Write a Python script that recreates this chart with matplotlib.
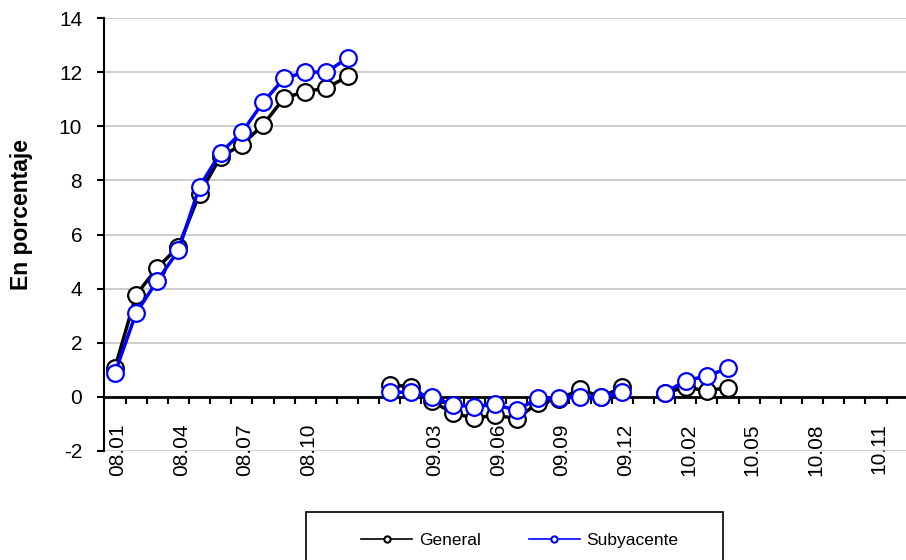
import numpy as np
import matplotlib
matplotlib.use("Agg")
import matplotlib.pyplot as plt
import matplotlib.transforms as mtransforms
from matplotlib.lines import Line2D
from matplotlib.patches import Rectangle

plt.rcParams["font.family"] = ["Liberation Sans", "DejaVu Sans"]
plt.rcParams["axes.unicode_minus"] = False

# ---------- data ----------
# categories: 2008 months, blank, 2009 months, blank, 2010 months
months_08 = [f"08.{m:02d}" for m in range(1, 13)]
months_09 = [f"09.{m:02d}" for m in range(1, 13)]
months_10 = [f"10.{m:02d}" for m in range(1, 13)]
categories = months_08 + [""] + months_09 + [""] + months_10

general_08 = [1.07, 3.77, 4.77, 5.55, 7.50, 8.88, 9.31, 10.05, 11.04, 11.28, 11.41, 11.84]
general_09 = [0.44, 0.38, -0.17, -0.60, -0.79, -0.67, -0.81, -0.23, -0.09, 0.28, 0.00, 0.35]
general_10 = [0.15, 0.35, 0.23, 0.34]

subyacente_08 = [0.89, 3.10, 4.29, 5.41, 7.77, 9.03, 9.77, 10.88, 11.77, 12.00, 12.00, 12.52]
subyacente_09 = [0.17, 0.17, 0.00, -0.30, -0.36, -0.28, -0.50, -0.05, -0.05, 0.00, 0.00, 0.17]
subyacente_10 = [0.15, 0.60, 0.77, 1.06]


def full_series(s08, s09, s10):
    pad10 = [np.nan] * (12 - len(s10))
    return np.array(s08 + [np.nan] + s09 + [np.nan] + s10 + pad10, dtype=float)


general = full_series(general_08, general_09, general_10)
subyacente = full_series(subyacente_08, subyacente_09, subyacente_10)
x = np.arange(len(categories))

# ---------- plot ----------
fig = plt.figure(figsize=(9.06, 5.6), dpi=100)
ax = fig.add_axes([104.4 / 906, 1 - 451 / 560, (907.7 - 104.4) / 906, (451 - 18) / 560])

common = dict(marker="o", markersize=12, markerfacecolor="white",
              markeredgewidth=1.6, linewidth=2.5, clip_on=False)
ax.plot(x, general, color="black", markeredgecolor="black", zorder=3, **common)
ax.plot(x, subyacente, color="#0000ff", markeredgecolor="#0000ff", zorder=4, **common)

ax.set_xlim(-0.5, len(categories) - 0.5)
ax.set_ylim(-2, 14)
ax.set_yticks(np.arange(-2, 15, 2))
ax.yaxis.grid(True, color="#c0c0c0", linewidth=1.1)
ax.set_axisbelow(True)

for side in ["top", "right"]:
    ax.spines[side].set_visible(False)
ax.spines["left"].set_linewidth(1.5)
ax.spines["bottom"].set_position(("data", 0))
ax.spines["bottom"].set_linewidth(2.0)
ax.spines["bottom"].set_zorder(2.5)

tick_idx = x[::3]
ax.set_xticks(tick_idx)
ax.set_xticklabels([categories[i] for i in tick_idx], rotation=90)
ax.set_xticks(np.arange(0.5, len(categories) - 1, 1.0), minor=True)
ax.tick_params(axis="x", which="major", length=0, pad=19, labelsize=15)
ax.tick_params(axis="x", which="minor", length=5, width=1.5, direction="out")
ax.tick_params(axis="y", length=5, width=1.5, pad=11, labelsize=15)

# nudge rotated category labels slightly right, as in the original
shift = mtransforms.ScaledTranslation(3 / 100, 0, fig.dpi_scale_trans)
for lbl in ax.get_xticklabels():
    lbl.set_transform(lbl.get_transform() + shift)

fig.text(21.5 / 906, 1 - 214 / 560, "En porcentaje", rotation=90,
         ha="center", va="center", fontsize=16.5, fontweight="bold")

# legend
handles = [
    Line2D([], [], color="black", linewidth=1.2, marker="o", markersize=4.5,
           markerfacecolor="white", markeredgecolor="black", markeredgewidth=1.5),
    Line2D([], [], color="#0000ff", linewidth=1.2, marker="o", markersize=4.5,
           markerfacecolor="white", markeredgecolor="#0000ff", markeredgewidth=1.5),
]
fig.legend(handles, ["General", "Subyacente"], loc="center", ncol=2,
           bbox_to_anchor=(520 / 906, 1 - 540 / 560), frameon=False,
           fontsize=12.5, handlelength=2.9, handletextpad=0.4, columnspacing=2.8)
fig.patches.append(Rectangle((306 / 906, -0.05), (723 - 306) / 906, 0.05 + (560 - 512) / 560,
                             transform=fig.transFigure, fill=False,
                             edgecolor="black", linewidth=1.2))

fig.savefig("out.png", dpi=100)
